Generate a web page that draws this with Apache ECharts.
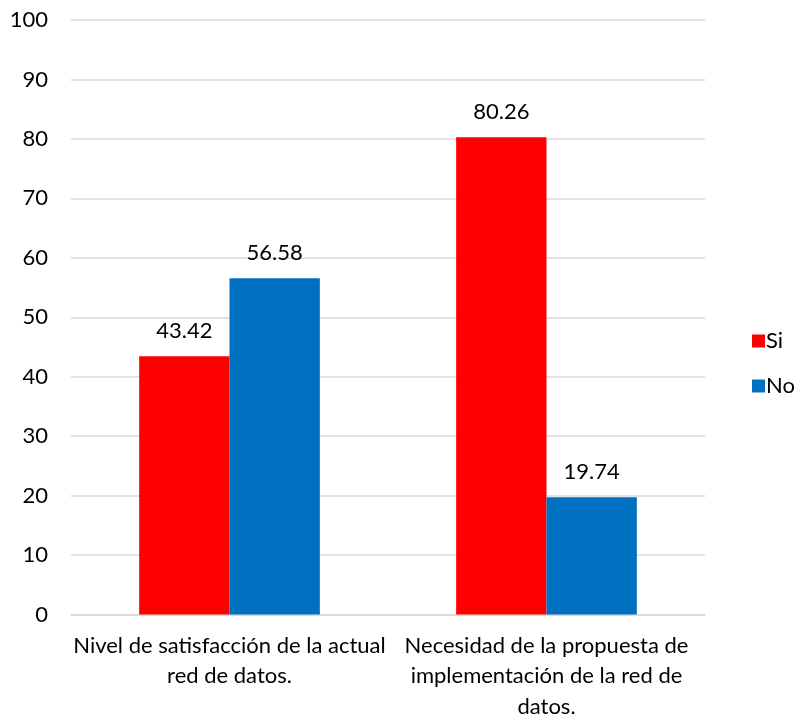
<!DOCTYPE html>
<html>
<head>
<meta charset="utf-8">
<script src="https://cdn.jsdelivr.net/npm/echarts@6/dist/echarts.min.js"></script>
<style>
  html, body { margin: 0; padding: 0; background: #fff; }
  #chart { width: 798px; height: 715px; }
</style>
</head>
<body>
<div id="chart"></div>
<script>
// Survey categories and percentages per answer
const categories = [
  'Nivel de satisfacción de la actual\nred de datos.',
  'Necesidad de la propuesta de\nimplementación de la red de\ndatos.'
];
const seriesNames = ['Si', 'No'];
const siValues = [43.42, 80.26];
const noValues = [56.58, 19.74];
const yTicks = { min: 0, max: 100, interval: 10 };

const FONT = 'Lato, "Open Sans", sans-serif';
const FS = 22;
const chart = echarts.init(document.getElementById('chart'), null, { renderer: 'canvas' });

const labelStyle = {
  show: true,
  position: 'top',
  distance: 14,
  color: '#000',
  fontSize: FS,
  fontFamily: FONT,
  formatter: p => p.value.toFixed(2)
};

chart.setOption({
  animation: false,
  textStyle: { fontFamily: FONT },
  grid: { left: 71, right: 93, top: 20, bottom: 100.5, containLabel: false, outerBoundsMode: 'none' },
  legend: {
    orient: 'vertical',
    left: 747,
    top: 325,
    itemWidth: 13,
    itemHeight: 13,
    itemGap: 23,
    icon: 'rect',
    textStyle: { fontSize: FS, color: '#000', fontFamily: FONT, padding: [0, 0, 0, -4] },
    data: seriesNames
  },
  xAxis: {
    type: 'category',
    data: categories,
    axisLine: { lineStyle: { color: '#d9d9d9', width: 1.5 } },
    axisTick: { show: false },
    axisLabel: {
      color: '#000',
      fontSize: FS,
      fontFamily: FONT,
      lineHeight: 30.5,
      margin: 16,
      interval: 0
    }
  },
  yAxis: {
    type: 'value',
    min: yTicks.min,
    max: yTicks.max,
    interval: yTicks.interval,
    axisLine: { show: false },
    axisTick: { show: false },
    splitLine: { lineStyle: { color: '#d9d9d9', width: 1.5 } },
    axisLabel: { color: '#000', fontSize: FS, fontFamily: FONT, margin: 23 }
  },
  series: [
    {
      name: seriesNames[0],
      type: 'bar',
      data: siValues,
      itemStyle: { color: '#ff0000' },
      barGap: '0%',
      barCategoryGap: '43%',
      label: labelStyle
    },
    {
      name: seriesNames[1],
      type: 'bar',
      data: noValues,
      itemStyle: { color: '#0070c0' },
      label: labelStyle
    }
  ]
});
</script>
</body>
</html>
